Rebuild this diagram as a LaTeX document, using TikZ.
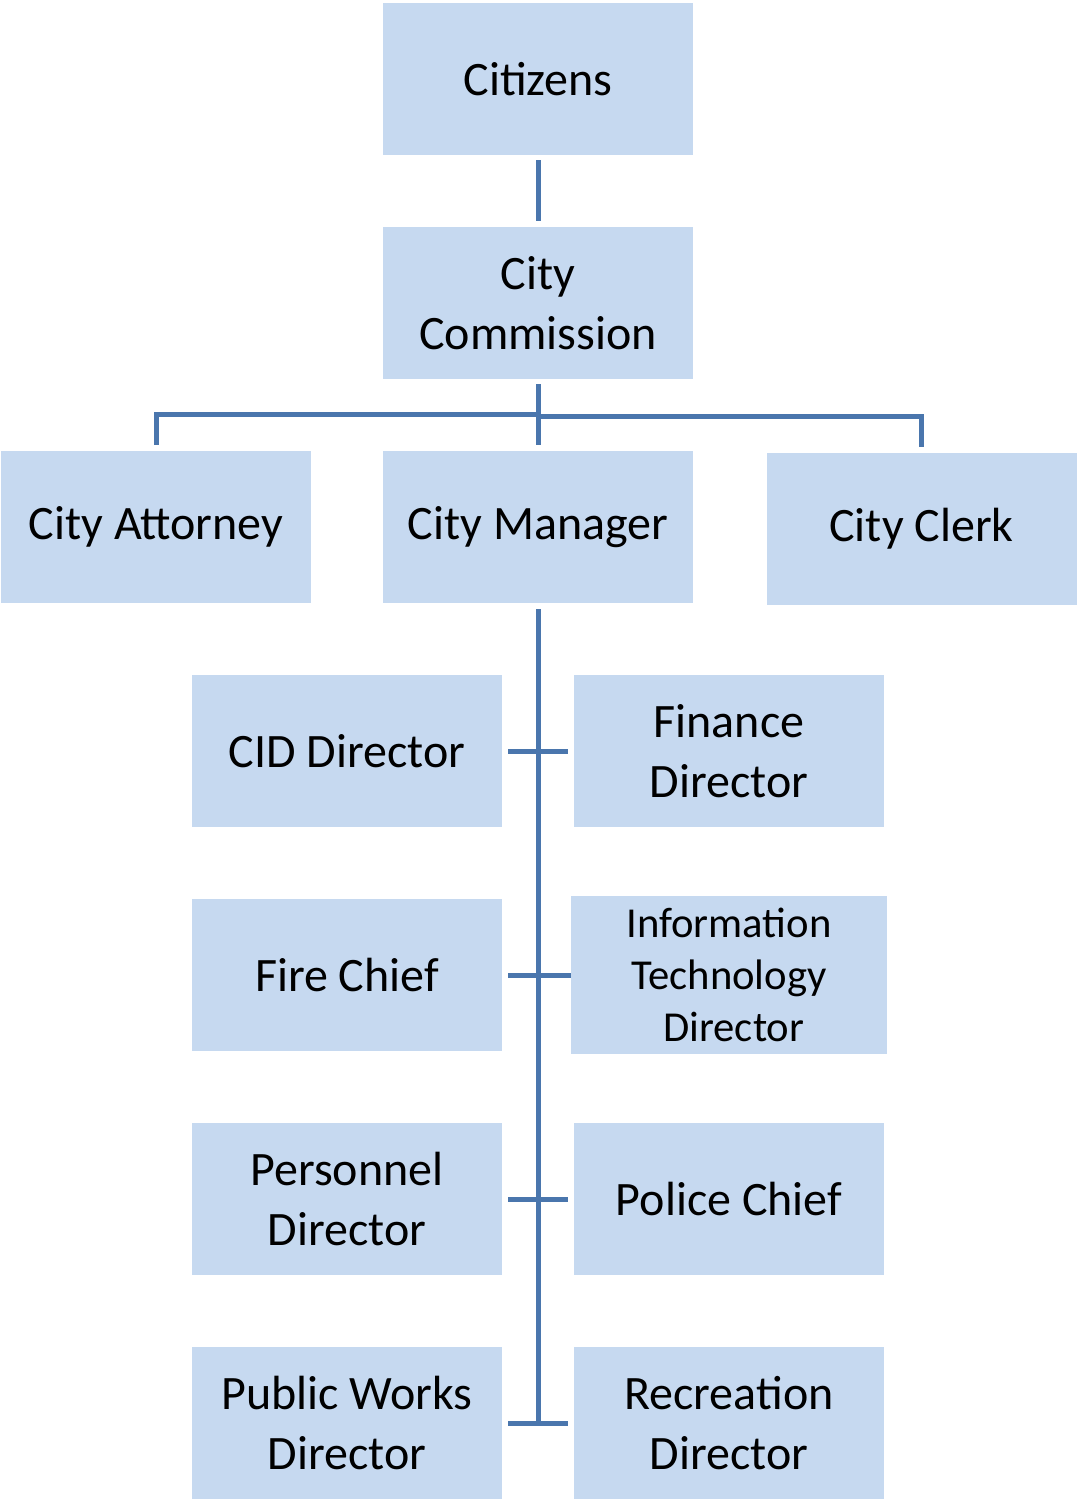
\documentclass[tikz,border=0pt]{standalone}
\usepackage{fontspec}
\setmainfont{Carlito}
\usetikzlibrary{calc}
\definecolor{boxfill}{HTML}{C6D9F0}
\definecolor{linecol}{HTML}{4A76AD}
\begin{document}
\begin{tikzpicture}[x=0.75pt,y=-0.75pt,
  orgbox/.style={fill=boxfill,draw=none,minimum width=232.5pt,minimum height=114pt,inner sep=0pt,align=center,font=\fontsize{36}{45}\selectfont},
  smallbox/.style={orgbox,minimum width=237pt,minimum height=118.5pt,font=\fontsize{32}{39}\selectfont},
  conn/.style={draw=linecol,line width=3.75pt}]
\useasboundingbox (0,0) rectangle (1076,1499);
\node[orgbox] (cit) at (538,79) {Citizens};
\node[orgbox] (com) at (538,303) {City\\Commission};
\node[orgbox] (att) at (156,527) {City Attorney};
\node[orgbox] (man) at (538,527) {City Manager};
\node[orgbox] (clk) at (921.5,529) {City Clerk};
\node[orgbox] (cid) at (347,751) {CID Director};
\node[orgbox] (fin) at (729,751) {Finance\\Director};
\node[orgbox] (fire) at (347,975) {Fire Chief};
\node[smallbox] (it) at (729,975) {Information\\Technology\\\ Director};
\node[orgbox] (per) at (347,1199) {Personnel\\Director};
\node[orgbox] (pol) at (729,1199) {Police Chief};
\node[orgbox] (pw) at (347,1423) {Public Works\\Director};
\node[orgbox] (rec) at (729,1423) {Recreation\\Director};
% connectors
\draw[conn] ($(cit.south)+(0,5)$) -- ($(com.north)+(0,-6)$);
\coordinate (bl) at ($(com.south)+(0,35)$);
\coordinate (brr) at ($(com.south)+(0,37)$);
\draw[conn] ($(com.south)+(0,5)$) -- ($(man.north)+(0,-6)$);
\draw[conn] ($(att.north)+(0,-6)$) |- (bl);
\draw[conn] ($(clk.north)+(0,-6)$) |- (brr);
\coordinate (spend) at (man.south |- pw.east);
\draw[conn] ($(man.south)+(0,6)$) -- (spend);
\draw[conn] ($(cid.east)+(6,0)$) -- ($(fin.west)+(-6,0)$);
\draw[conn] ($(fire.east)+(6,0)$) -- (it.west);
\draw[conn] ($(per.east)+(6,0)$) -- ($(pol.west)+(-6,0)$);
\draw[conn] ($(pw.east)+(6,0)$) -- ($(rec.west)+(-6,0)$);
\end{tikzpicture}
\end{document}
